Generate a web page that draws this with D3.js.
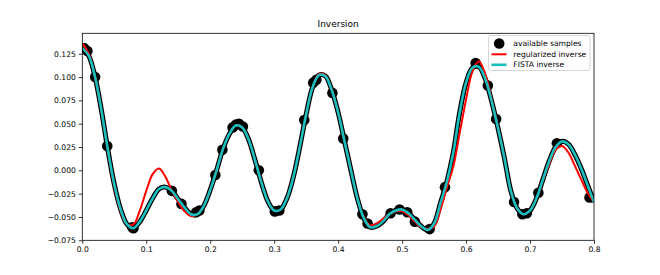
<!DOCTYPE html>
<html>
<head>
<meta charset="utf-8">
<script src="https://cdn.jsdelivr.net/npm/d3@7"></script>
<style>
  html, body { margin: 0; padding: 0; background: #fff; }
  svg { display: block; }
  text { font-family: "DejaVu Sans", sans-serif; }
</style>
</head>
<body>
<script>
// ---- data ----
const gridX = d3.range(0, 81).map(i => +(i * 0.01).toFixed(2));
const trueSignal = [
  0.131, 0.123, 0.100, 0.064, 0.022, -0.015, -0.042, -0.058, -0.062, -0.055,
  -0.043, -0.030, -0.020, -0.018, -0.022, -0.031, -0.040, -0.047, -0.047, -0.038,
  -0.021, 0.000, 0.023, 0.039, 0.048, 0.046, 0.033, 0.011, -0.013, -0.033,
  -0.043, -0.042, -0.030, -0.007, 0.025, 0.060, 0.089, 0.102, 0.101, 0.086,
  0.062, 0.031, 0.000, -0.030, -0.051, -0.061, -0.060, -0.055, -0.047, -0.043,
  -0.042, -0.046, -0.053, -0.060, -0.064, -0.057, -0.035, -0.012, 0.019, 0.062,
  0.094, 0.110, 0.111, 0.098, 0.074, 0.045, 0.013, -0.022, -0.041, -0.047,
  -0.043, -0.030, -0.010, 0.010, 0.025, 0.031, 0.028, 0.017, 0.002, -0.016,
  -0.034
];
const fistaInverse = trueSignal.slice();
const regularizedInverse = [
  0.136, 0.125, 0.100, 0.063, 0.021, -0.017, -0.044, -0.058, -0.058, -0.043,
  -0.022, -0.004, 0.002, -0.007, -0.022, -0.034, -0.044, -0.049, -0.047, -0.038,
  -0.021, 0.000, 0.023, 0.039, 0.048, 0.046, 0.033, 0.011, -0.013, -0.033,
  -0.043, -0.042, -0.030, -0.007, 0.025, 0.060, 0.089, 0.103, 0.102, 0.086,
  0.062, 0.031, 0.000, -0.030, -0.050, -0.059, -0.057, -0.052, -0.047, -0.044,
  -0.044, -0.048, -0.055, -0.061, -0.063, -0.060, -0.042, -0.018, 0.004, 0.040,
  0.076, 0.106, 0.117, 0.103, 0.076, 0.046, 0.013, -0.022, -0.041, -0.047,
  -0.043, -0.030, -0.011, 0.007, 0.022, 0.026, 0.019, 0.005, -0.010, -0.024,
  -0.034
];
const sampleX = [0.003, 0.008, 0.020, 0.039, 0.078, 0.080, 0.140, 0.155, 0.178, 0.183,
  0.208, 0.219, 0.235, 0.240, 0.245, 0.251, 0.276, 0.301, 0.308, 0.347,
  0.361, 0.366, 0.391, 0.408, 0.438, 0.446, 0.482, 0.496, 0.508, 0.520,
  0.543, 0.567, 0.615, 0.634, 0.647, 0.675, 0.688, 0.695, 0.713, 0.742, 0.793];
const sampleY = [0.131, 0.128, 0.100, 0.026, -0.061, -0.062, -0.022, -0.036, -0.045, -0.043,
  -0.005, 0.022, 0.046, 0.049, 0.050, 0.047, 0.000, -0.044, -0.043, 0.054,
  0.094, 0.097, 0.083, 0.034, -0.047, -0.057, -0.046, -0.042, -0.045, -0.055,
  -0.063, -0.018, 0.115, 0.091, 0.055, -0.034, -0.047, -0.046, -0.024, 0.029, -0.029];
const xTicks = [0.0, 0.1, 0.2, 0.3, 0.4, 0.5, 0.6, 0.7, 0.8];
const yTicks = [-0.075, -0.050, -0.025, 0.000, 0.025, 0.050, 0.075, 0.100, 0.125];
const legendLabels = ["available samples", "regularized inverse", "FISTA inverse"];
const title = "Inversion";

// ---- layout ----
const W = 660, H = 275;
const L = 82.3, R = 594, T = 33.3, B = 240.3;
const FS = 7.6;

const svg = d3.select("body").append("svg").attr("width", W).attr("height", H);
const x = d3.scaleLinear().domain([0, 0.8]).range([L, R]);
const y = d3.scaleLinear().domain([-0.075, 0.1469]).range([B, T]);

const fmtMinus = s => s.replace("-", "\u2212");

// clip
svg.append("clipPath").attr("id", "clip").append("rect")
  .attr("x", L).attr("y", T).attr("width", R - L).attr("height", B - T);

const plot = svg.append("g").attr("clip-path", "url(#clip)");
const line = d3.line().x((d, i) => x(gridX[i])).y(d => y(d)).curve(d3.curveCatmullRom.alpha(0.5));

plot.append("path").datum(trueSignal).attr("d", line)
  .attr("fill", "none").attr("stroke", "#000").attr("stroke-width", 5).attr("stroke-linejoin", "round");
plot.selectAll("circle.s").data(sampleX).join("circle").attr("class", "s")
  .attr("cx", d => x(d)).attr("cy", (d, i) => y(sampleY[i])).attr("r", 5.3).attr("fill", "#000");
plot.append("path").datum(regularizedInverse).attr("d", line)
  .attr("fill", "none").attr("stroke", "#ff0000").attr("stroke-width", 2).attr("stroke-linejoin", "round");
plot.append("path").datum(fistaInverse).attr("d", line)
  .attr("fill", "none").attr("stroke", "#17bfbf").attr("stroke-width", 2.6).attr("stroke-linejoin", "round");

// axes
const xAxis = d3.axisBottom(x).tickValues(xTicks).tickFormat(d3.format(".1f")).tickSize(3.5).tickPadding(3);
const yAxis = d3.axisLeft(y).tickValues(yTicks).tickFormat(d => fmtMinus(d3.format(".3f")(d))).tickSize(3.5).tickPadding(3);

const gx = svg.append("g").attr("transform", `translate(0,${B})`).call(xAxis);
const gy = svg.append("g").attr("transform", `translate(${L},0)`).call(yAxis);
[gx, gy].forEach(g => {
  g.select(".domain").remove();
  g.selectAll(".tick line").attr("stroke", "#000").attr("stroke-width", 0.8);
  g.selectAll(".tick text").attr("fill", "#000").style("font-size", FS + "px").style("font-family", "DejaVu Sans");
});

// spines
svg.append("rect").attr("x", L).attr("y", T).attr("width", R - L).attr("height", B - T)
  .attr("fill", "none").attr("stroke", "#000").attr("stroke-width", 0.8);

// title
svg.append("text").attr("x", (L + R) / 2).attr("y", T - 6).attr("text-anchor", "middle")
  .style("font-size", "9px").attr("fill", "#000").text(title);

// legend
const lg = svg.append("g");
const lx = 488.5, ly = 35.5, lw = 101.5, lh = 35;
lg.append("rect").attr("x", lx).attr("y", ly).attr("width", lw).attr("height", lh)
  .attr("rx", 2).attr("fill", "#fff").attr("fill-opacity", 0.8).attr("stroke", "#cccccc").attr("stroke-width", 0.8);
const rows = [43.5, 54.3, 64.8];
lg.append("circle").attr("cx", 499.2).attr("cy", rows[0]).attr("r", 5.3).attr("fill", "#000");
lg.append("line").attr("x1", 491.5).attr("x2", 506.5).attr("y1", rows[1]).attr("y2", rows[1])
  .attr("stroke", "#ff0000").attr("stroke-width", 2);
lg.append("line").attr("x1", 491.5).attr("x2", 506.5).attr("y1", rows[2]).attr("y2", rows[2])
  .attr("stroke", "#17bfbf").attr("stroke-width", 2.6);
lg.selectAll("text.l").data(legendLabels).join("text").attr("class", "l")
  .attr("x", 513.3).attr("y", (d, i) => rows[i]).attr("dy", "0.35em")
  .style("font-size", FS + "px").attr("fill", "#000").text(d => d);
</script>
</body>
</html>
